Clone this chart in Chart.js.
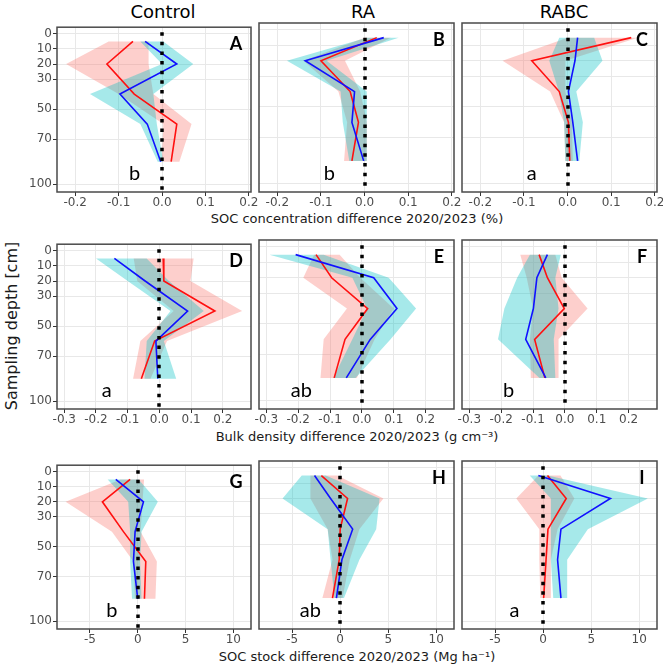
<!DOCTYPE html>
<html><head><meta charset="utf-8">
<script src="https://cdn.jsdelivr.net/npm/chart.js@4.4.0/dist/chart.umd.min.js"></script>
<style>
body{margin:0;background:#fff;width:663px;height:665px;position:relative;overflow:hidden;font-family:"DejaVu Sans",sans-serif}
canvas{position:absolute}
.t{position:absolute;transform:translate(-50%,-50%);white-space:nowrap;color:#000}
</style></head><body>
<div class="t" style="left:163px;top:11px;font-size:18px">Control</div>
<div class="t" style="left:363px;top:11px;font-size:18px">RA</div>
<div class="t" style="left:564px;top:11px;font-size:18px">RABC</div>
<div class="t" style="left:357px;top:218px;font-size:13px;color:#1a1a1a">SOC concentration difference 2020/2023 (%)</div>
<div class="t" style="left:357px;top:436px;font-size:13px;color:#1a1a1a">Bulk density difference 2020/2023 (g cm⁻³)</div>
<div class="t" style="left:357px;top:656px;font-size:13px;color:#1a1a1a">SOC stock difference 2020/2023 (Mg ha⁻¹)</div>
<div class="t" style="left:11px;top:326px;font-size:16px;transform:translate(-50%,-50%) rotate(-90deg);color:#1a1a1a">Sampling depth [cm]</div>
<script>
// ---- data ----
const depths = [5, 20, 40, 60, 85];
const depthTicks = [0, 10, 20, 30, 50, 70, 100];
const treatments = ['Control', 'RA', 'RABC'];
const panelLetters = [['A','B','C'], ['D','E','F'], ['G','H','I']];
const groupLetters = [['b','b','a'], ['a','ab','b'], ['b','ab','a']];

const socTicks = [-0.2, -0.1, 0.0, 0.1, 0.2];
const bdTicks = [-0.3, -0.2, -0.1, 0.0, 0.1, 0.2];
const stockTicks = [-5, 0, 5, 10];

// SOC concentration difference (%)  [Control, RA, RABC]
const socRed    = [[-0.067,-0.127,-0.064,0.034,0.021], [0.028,-0.100,-0.033,-0.014,-0.029], [0.146,-0.082,-0.019,0.002,0.005]];
const socRedLo  = [[-0.123,-0.221,-0.100,0.003,0.000], [0.000,-0.140,-0.060,-0.040,-0.047], [0.000,-0.149,-0.040,-0.008,-0.005]];
const socRedHi  = [[-0.031,-0.031,-0.020,0.068,0.040], [0.060,-0.045,-0.010,0.005,0.005], [0.161,-0.005,-0.005,0.010,0.012]];
const socBlue   = [[-0.039,0.034,-0.097,-0.034,-0.003], [0.044,-0.136,-0.023,-0.029,-0.002], [0.023,0.017,0.002,0.012,0.023]];
const socBlueLo = [[-0.050,0.000,-0.166,-0.050,-0.010], [0.005,-0.178,-0.055,-0.050,-0.035], [-0.019,-0.042,-0.020,-0.008,-0.005]];
const socBlueHi = [[0.003,0.072,-0.020,-0.012,0.003], [0.078,-0.087,0.005,0.005,0.005], [0.061,0.080,0.020,0.035,0.027]];

// Bulk density difference (g cm-3)
const bdRed    = [[0.012,0.014,0.175,-0.015,-0.057], [-0.144,-0.095,0.018,-0.053,-0.087], [-0.081,-0.055,-0.002,-0.095,-0.063]];
const bdRedLo  = [[-0.081,-0.070,0.045,-0.060,-0.083], [-0.150,-0.184,-0.047,-0.120,-0.130], [-0.140,-0.120,-0.100,-0.110,-0.107]];
const bdRedHi  = [[0.108,0.098,0.261,0.024,-0.028], [-0.070,-0.005,0.100,0.040,-0.016], [-0.030,-0.010,0.071,-0.020,-0.020]];
const bdBlue   = [[-0.142,-0.045,0.089,-0.011,-0.005], [-0.208,0.037,0.110,0.026,-0.049], [-0.055,-0.088,-0.099,-0.123,-0.060]];
const bdBlueLo = [[-0.200,-0.100,0.035,-0.040,-0.047], [-0.290,-0.030,0.016,-0.030,-0.090], [-0.110,-0.150,-0.190,-0.210,-0.080]];
const bdBlueHi = [[-0.040,0.030,0.140,0.014,0.053], [-0.120,0.084,0.170,0.090,-0.020], [-0.013,-0.030,-0.020,-0.035,-0.030]];

// SOC stock difference (Mg ha-1)
const stRed    = [[-0.8,-3.7,-1.5,0.84,0.7], [-1.96,0.77,0.0,-0.1,-0.8], [0.45,2.4,0.5,0.3,0.05]];
const stRedLo  = [[-1.8,-7.55,-2.7,-0.45,-0.3], [-3.1,-3.1,-1.3,-0.8,-1.85], [-0.5,-2.8,-0.4,-0.4,-0.3]];
const stRedHi  = [[0.66,0.5,0.3,2.0,1.85], [-0.3,4.5,2.0,1.0,0.25], [1.8,3.25,1.5,0.8,0.8]];
const stBlue   = [[-2.3,0.6,-0.28,-0.45,0.0], [-2.67,-1.0,1.3,0.18,-0.39], [-0.5,7.0,1.85,1.5,1.85]];
const stBlueLo = [[-3.15,-1.0,-0.8,-0.8,-0.6], [-4.0,-6.0,-1.3,-1.0,-0.6], [-1.4,0.8,0.8,0.8,1.05]];
const stBlueHi = [[0.1,2.1,0.4,0.25,0.4], [-1.5,4.1,3.75,2.0,0.4], [0.5,10.9,4.65,2.5,2.55]];

// ---- layout / style ----
const rows = [
  {red:socRed, redLo:socRedLo, redHi:socRedHi, blue:socBlue, blueLo:socBlueLo, blueHi:socBlueHi, min:-0.242, max:0.205, ticks:socTicks, dec:1, grpX:[-0.063,-0.081,-0.082]},
  {red:bdRed, redLo:bdRedLo, redHi:bdRedHi, blue:bdBlue, blueLo:bdBlueLo, blueHi:bdBlueHi, min:-0.323, max:0.289, ticks:bdTicks, dec:1, grpX:[-0.166,-0.19,-0.177]},
  {red:stRed, redLo:stRedLo, redHi:stRedHi, blue:stBlue, blueLo:stBlueLo, blueHi:stBlueHi, min:-8.45, max:11.85, ticks:stockTicks, dec:0, grpX:[-2.7,-3.1,-3.0]}
];
const colLeft = [57, 259, 462], colW = [194, 195, 195];
const rowTop = [23, 240, 461], rowH = [169, 169, 168];
const PAD = 14, PADT = 4, XH = 22;
const GRP_DEPTH = 93;

function band(lo, hi) {
  const pts = depths.map((d, i) => ({x: lo[i], y: d}));
  for (let i = depths.length - 1; i >= 0; i--) pts.push({x: hi[i], y: depths[i]});
  return pts;
}
function line(vals) { return depths.map((d, i) => ({x: vals[i], y: d})); }

for (let r = 0; r < 3; r++) {
  for (let c = 0; c < 3; c++) {
    const row = rows[r];
    const cv = document.createElement('canvas');
    const left = c === 0 ? 0 : colLeft[c] - PAD;
    const w = c === 0 ? colLeft[0] + colW[0] + PAD : PAD + colW[c] + PAD;
    const h = PADT + rowH[r] + XH;
    cv.width = w; cv.height = h;
    cv.style.left = left + 'px'; cv.style.top = (rowTop[r] - PADT) + 'px';
    cv.style.width = w + 'px'; cv.style.height = h + 'px';
    document.body.appendChild(cv);

    const fmt = v => row.dec ? Number(v).toFixed(row.dec) : String(v);
    const plug = {
      id: 'panelDeco' + r + c,
      afterDatasetsDraw(chart) {
        const {ctx, chartArea: a, scales: {x, y}} = chart;
        const px = Math.round(x.getPixelForValue(0));
        const y0 = y.getPixelForValue(0);
        const P = 9.63, L = 3.5;
        ctx.save();
        ctx.beginPath(); ctx.rect(a.left, a.top, a.width, a.height); ctx.clip();
        ctx.strokeStyle = '#000'; ctx.lineWidth = 3.5; ctx.setLineDash([L, P - L]);
        ctx.lineDashOffset = (((a.top - y0 + L / 2) % P) + P) % P;
        ctx.beginPath(); ctx.moveTo(px, a.top); ctx.lineTo(px, a.bottom); ctx.stroke();
        ctx.restore();
      },
      afterDraw(chart) {
        const {ctx, chartArea: a, scales: {x, y}} = chart;
        ctx.save();
        ctx.strokeStyle = '#4a4a4a'; ctx.lineWidth = 1.5;
        ctx.strokeRect(a.left, a.top, a.width, a.height);
        ctx.fillStyle = '#000'; ctx.textAlign = 'center'; ctx.textBaseline = 'middle';
        ctx.font = 'bold 18px Lato';
        ctx.fillText(panelLetters[r][c], a.right - 15, a.top + 17);
        ctx.font = '20px Lato';
        ctx.fillText(groupLetters[r][c], x.getPixelForValue(row.grpX[c]), y.getPixelForValue(GRP_DEPTH));
        ctx.restore();
      }
    };

    new Chart(cv, {
      type: 'scatter',
      data: {
        datasets: [
          {data: line(row.blue[c]), showLine: true, borderColor: '#1010ff', borderWidth: 1.6, pointRadius: 0, fill: false, order: 0},
          {data: line(row.red[c]), showLine: true, borderColor: '#ff1010', borderWidth: 1.6, pointRadius: 0, fill: false, order: 1},
          {data: band(row.blueLo[c], row.blueHi[c]), showLine: true, borderColor: 'transparent', borderWidth: 0, pointRadius: 0, fill: 'shape', backgroundColor: 'rgba(0,191,196,0.35)', order: 2},
          {data: band(row.redLo[c], row.redHi[c]), showLine: true, borderColor: 'transparent', borderWidth: 0, pointRadius: 0, fill: 'shape', backgroundColor: 'rgba(248,118,109,0.35)', order: 3}
        ]
      },
      options: {
        responsive: false, animation: false, devicePixelRatio: 1,
        layout: {padding: {left: c === 0 ? 0 : PAD, right: PAD, top: PADT, bottom: 0}},
        plugins: {legend: {display: false}, tooltip: {enabled: false}},
        elements: {line: {tension: 0}},
        scales: {
          x: {
            type: 'linear', min: row.min, max: row.max,
            afterBuildTicks: s => { s.ticks = row.ticks.map(v => ({value: v})); },
            afterFit: s => { s.height = XH; },
            grid: {color: '#e8e8e8', lineWidth: 1, drawTicks: true, tickLength: 4, tickColor: '#333'},
            border: {display: false},
            ticks: {autoSkip: false, maxRotation: 0, minRotation: 0, padding: 0, color: '#4d4d4d',
                    font: {family: 'DejaVu Sans', size: 12}, callback: v => fmt(v)}
          },
          y: {
            type: 'linear', reverse: true, min: -4.5, max: 105.2,
            afterBuildTicks: s => { s.ticks = depthTicks.map(v => ({value: v})); },
            afterFit: s => { s.width = c === 0 ? 57 : 0; },
            grid: {color: '#e8e8e8', lineWidth: 1, drawTicks: c === 0, tickLength: 4, tickColor: '#333'},
            border: {display: false},
            ticks: {display: c === 0, autoSkip: false, padding: 1, color: '#4d4d4d',
                    font: {family: 'DejaVu Sans', size: 12}, callback: v => String(v)}
          }
        }
      },
      plugins: [plug]
    });
  }
}
</script>
</body></html>
